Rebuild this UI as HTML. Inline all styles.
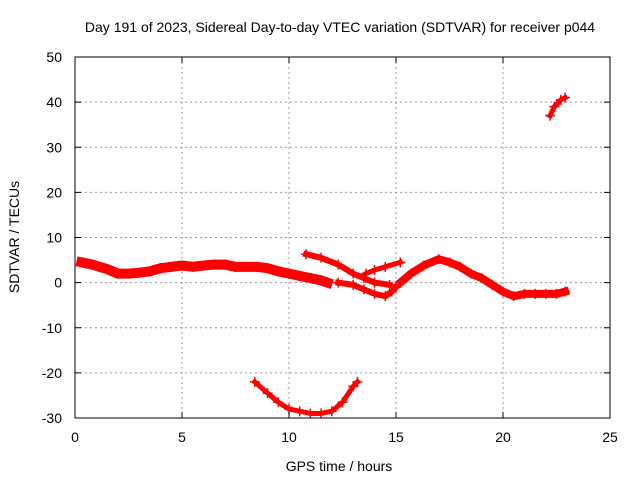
<!DOCTYPE html>
<html><head><meta charset="utf-8"><style>
body{margin:0;background:#fff}
svg{display:block;font-family:"Liberation Sans",sans-serif;font-size:14px}
</style></head><body>
<svg id="c" width="640" height="480">
<text x="340" y="32" text-anchor="middle">Day 191 of 2023, Sidereal Day-to-day VTEC variation (SDTVAR) for receiver p044</text>
<text x="339" y="471" text-anchor="middle">GPS time / hours</text>
<text transform="translate(19,237) rotate(-90)" text-anchor="middle">SDTVAR / TECUs</text>
<g id="grid"></g>
<g id="series"></g>
<rect x="75" y="57" width="535" height="361" fill="none" stroke="#000"/>
<g id="ticks"></g>
</svg>
<script>
const xTicks=[0,5,10,15,20,25];
const yTicks=[-30,-20,-10,0,10,20,30,40,50];
const segA_t=[0.3,0.8,1.5,2,2.5,3,3.5,4,4.5,5,5.5,6,6.5,7,7.5,8,8.5,9,9.5,10,10.5,11,11.5,11.8];
const segA_v=[4.5,4,3,2,2,2.2,2.5,3.2,3.5,3.8,3.5,3.8,4,4,3.5,3.5,3.5,3.2,2.5,2,1.5,1,0.5,0];
const segB_t=[10.8,11.5,12.3,13,13.5,14,14.7];
const segB_v=[6.3,5.5,4,2,1,0,-0.5];
const segC_t=[12.3,13,13.5,14,14.5,14.8,15.2];
const segC_v=[0,-0.5,-1.5,-2.5,-3,-2,0];
const segD_t=[13.6,14,14.5,15.2];
const segD_v=[2,2.8,3.5,4.5];
const segE_t=[15.2,15.7,16.3,17,17.5,18,18.5,19,19.5,20,20.5,21,21.5,22,22.5,22.9];
const segE_v=[0,2,3.8,5.2,4.5,3.5,2,1,-0.5,-2,-3,-2.5,-2.5,-2.5,-2.5,-2];
const segF_t=[8.4,9,9.5,10,10.5,11,11.5,12,12.5,13,13.2];
const segF_v=[-22,-24.5,-26.5,-28,-28.5,-29,-29,-28.5,-26.5,-23,-22];
const segG_t=[22.2,22.4,22.7,22.9];
const segG_v=[37,39,40.5,41];
const X=t=>75+t*535/25, Y=v=>418-(v+30)*361/80;
const NS='http://www.w3.org/2000/svg';
function mk(p,tag,a){const e=document.createElementNS(NS,tag);for(const k in a)e.setAttribute(k,a[k]);p.appendChild(e);return e;}
const grid=document.getElementById('grid'),ticks=document.getElementById('ticks'),ser=document.getElementById('series');
xTicks.forEach(t=>{
 if(t>0&&t<25){const g=mk(grid,'line',{x1:X(t),x2:X(t),y1:57,y2:418,stroke:'#999','stroke-dasharray':'2,3'});
 
 }
 mk(ticks,'line',{x1:X(t),x2:X(t),y1:418,y2:412,stroke:'#000'});
 mk(ticks,'line',{x1:X(t),x2:X(t),y1:57,y2:63,stroke:'#000'});
 const l=mk(ticks,'text',{x:X(t),y:442,'text-anchor':'middle'});l.textContent=t;
 
 
});
yTicks.forEach(v=>{
 if(v>-30&&v<50){const g=mk(grid,'line',{x1:75,x2:610,y1:Y(v),y2:Y(v),stroke:'#999','stroke-dasharray':'2,3'});
 
 }
 mk(ticks,'line',{x1:75,x2:81,y1:Y(v),y2:Y(v),stroke:'#000'});
 mk(ticks,'line',{x1:610,x2:604,y1:Y(v),y2:Y(v),stroke:'#000'});
 const l=mk(ticks,'text',{x:62,y:Y(v)+5,'text-anchor':'end'});l.textContent=v;
 
 
});
const segs=[[segA_t,segA_v,10],[segB_t,segB_v,6],[segC_t,segC_v,6],[segD_t,segD_v,5],[segE_t,segE_v,8],[segF_t,segF_v,5],[segG_t,segG_v,5]];
segs.forEach((s,i)=>{
 const pts=s[0].map((t,j)=>X(t)+','+Y(s[1][j])).join(' ');
 const p=mk(ser,'polyline',{points:pts,fill:'none',stroke:'#f00','stroke-width':s[2],'stroke-linejoin':'round','stroke-linecap':'square'});
 
 
 s[0].forEach((t,j)=>{
  const x=X(t),y=Y(s[1][j]);
  mk(ser,'path',{d:`M${x-5},${y}h10M${x},${y-5}v10`,stroke:'#f00','stroke-width':1.5});
 });
});
</script>
</body></html>
